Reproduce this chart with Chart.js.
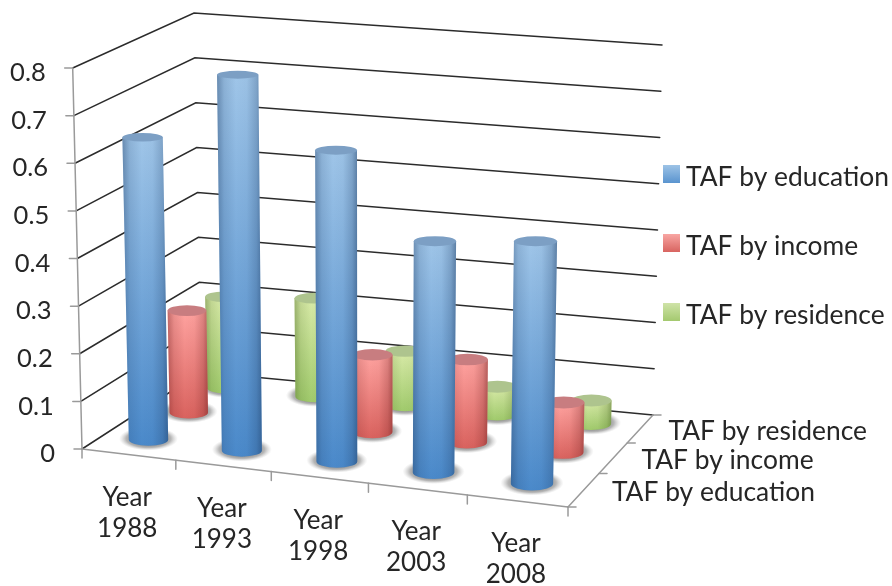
<!DOCTYPE html>
<html>
<head>
<meta charset="utf-8">
<style>html,body{margin:0;padding:0;background:#fff}canvas{display:block}</style>
<script src="https://cdn.jsdelivr.net/npm/chart.js@4/dist/chart.umd.min.js"></script>
</head>
<body>
<canvas id="c" width="892" height="586"></canvas>
<script>
const categories = ["Year 1988","Year 1993","Year 1998","Year 2003","Year 2008"];
const seriesNames = ["TAF by education","TAF by income","TAF by residence"];
const education = [0.64,0.79,0.65,0.48,0.50];
const income = [0.22,null,0.165,0.175,0.105];
const residence = [0.20,0.215,0.118,0.06,0.05];
const yTicks = [0,0.1,0.2,0.3,0.4,0.5,0.6,0.7,0.8];

const palette = [
  {light:"#9fc5e8",mid:"#4a89ca",cap:"#7c9fc4",edge:"rgba(30,60,100,",lg:"#9dc3e6",ld:"#5a94cf"},
  {light:"#ffa3a0",mid:"#d9625e",cap:"#c87d80",edge:"rgba(110,30,30,",lg:"#f8a6a3",ld:"#d86460"},
  {light:"#d8eaa8",mid:"#a0ca6c",cap:"#aec48e",edge:"rgba(70,100,30,",lg:"#cfe3a8",ld:"#a4c96f"}
];
const FONT = "Lato, 'Open Sans', sans-serif";
const TEXT = "#262626";

// axis box of the 3-D view: front-left, front-right, back-right, back-left
const floorQ = [[82,449],[568,507],[653,415],[201,372]];
const topQ = [[72.7,68],[575,113],[662,45],[194,13]];
const persp=(u,r)=>u/(u+(1-u)*r);
function quad(q,u,v){
  const a=[q[0][0]+(q[1][0]-q[0][0])*u,q[0][1]+(q[1][1]-q[0][1])*u];
  const b=[q[3][0]+(q[2][0]-q[3][0])*u,q[3][1]+(q[2][1]-q[3][1])*u];
  return [a[0]+(b[0]-a[0])*v,a[1]+(b[1]-a[1])*v];
}
function P(t,d,f){
  const u=persp(t,1.045),v=persp(d,0.87);
  const a=quad(floorQ,u,v),b=quad(topQ,u,v);
  return [a[0]+(b[0]-a[0])*f,a[1]+(b[1]-a[1])*f];
}
function line(ctx,a,b){ctx.beginPath();ctx.moveTo(a[0],a[1]);ctx.lineTo(b[0],b[1]);ctx.stroke();}

function drawFrame(chart){
  const ctx=chart.ctx,ys=chart.scales.y;
  const frac=v=>(ys.bottom-ys.getPixelForValue(v))/ys.height;
  ctx.save();
  ctx.lineCap="round";
  ctx.strokeStyle="#2b2b2b";ctx.lineWidth=1.5;
  ys.ticks.forEach(tk=>{
    const f=frac(tk.value);
    ctx.beginPath();
    const a=P(0,0,f),b=P(0,1,f),c=P(1,1,f);
    ctx.moveTo(a[0],a[1]);ctx.lineTo(b[0],b[1]);ctx.lineTo(c[0],c[1]);ctx.stroke();
  });
  ctx.strokeStyle="#9a9a9a";ctx.lineWidth=1.5;
  line(ctx,P(0,0,0),P(0,0,1));
  line(ctx,P(0,0,0),P(1,0,0));
  line(ctx,P(1,0,0),P(1,1,0));
  ys.ticks.forEach(tk=>{const a=P(0,0,frac(tk.value));line(ctx,a,[a[0]-8,a[1]]);});
  const xs=chart.scales.x;
  for(let i=0;i<=xs.ticks.length;i++){const a=P(i/xs.ticks.length,0,0);line(ctx,a,[a[0],a[1]+9]);}
  for(let i=0;i<=seriesNames.length;i++){const a=P(1,i/seriesNames.length,0);line(ctx,a,[a[0]+8,a[1]]);}
  ctx.restore();
}

function drawCylinder(ctx,t,d,f,pal){
  const B=P(t,d,0),T=P(t,d,f);
  const dt=0.0425;
  const rb=(P(t+dt,d,0)[0]-P(t-dt,d,0)[0])/2;
  const rt=(P(t+dt,d,f)[0]-P(t-dt,d,f)[0])/2;
  const ryb=rb*0.31, ryt=rt*(0.31-0.12*f);
  // floor shadow
  ctx.save();
  ctx.translate(B[0],B[1]-1);ctx.scale(1,0.4);
  const sr=rb*1.5;
  const sg=ctx.createRadialGradient(0,0,rb*0.7,0,0,sr);
  sg.addColorStop(0,"rgba(80,80,80,0.75)");sg.addColorStop(0.55,"rgba(110,110,110,0.5)");sg.addColorStop(1,"rgba(170,170,170,0)");
  ctx.fillStyle=sg;ctx.beginPath();ctx.arc(0,0,sr,0,Math.PI*2);ctx.fill();
  ctx.restore();
  // body
  const body=()=>{ctx.beginPath();
    ctx.moveTo(T[0]-rt,T[1]);
    ctx.lineTo(B[0]-rb,B[1]);
    ctx.ellipse(B[0],B[1],rb,ryb,0,Math.PI,0,true);
    ctx.lineTo(T[0]+rt,T[1]);
    ctx.closePath();};
  const vg=ctx.createLinearGradient(0,T[1],0,B[1]+ryb);
  vg.addColorStop(0,pal.light);vg.addColorStop(1,pal.mid);
  ctx.fillStyle=vg;body();ctx.fill();
  const L=Math.min(T[0]-rt,B[0]-rb),R=Math.max(T[0]+rt,B[0]+rb);
  const hg=ctx.createLinearGradient(L,0,R,0);
  hg.addColorStop(0,pal.edge+"0.42)");hg.addColorStop(0.16,pal.edge+"0.14)");hg.addColorStop(0.42,pal.edge+"0)");
  hg.addColorStop(0.66,pal.edge+"0.03)");hg.addColorStop(0.88,pal.edge+"0.24)");hg.addColorStop(1,pal.edge+"0.5)");
  ctx.fillStyle=hg;body();ctx.fill();
  // cap
  ctx.fillStyle=pal.cap;ctx.beginPath();ctx.ellipse(T[0],T[1],rt,ryt,0,0,Math.PI*2);ctx.fill();
}

function drawText(ctx,s,x,y,align,size){
  ctx.font=size+"px "+FONT;ctx.fillStyle=TEXT;ctx.textAlign=align;ctx.textBaseline="middle";ctx.fillText(s,x,y);
}

const view3d={
  id:"view3d",
  beforeDatasetsDraw(chart){
    const ctx=chart.ctx,xs=chart.scales.x,ys=chart.scales.y;
    drawFrame(chart);
    for(let s=chart.data.datasets.length-1;s>=0;s--){
      const meta=chart.getDatasetMeta(s);
      meta.data.forEach((el,i)=>{
        if(el.skip||chart.data.datasets[s].data[i]==null)return;
        const t=(xs.getPixelForValue(i)-xs.left)/xs.width-0.004;
        const d=(s+0.5)/chart.data.datasets.length;
        const f=(ys.bottom-el.y)/ys.height;
        drawCylinder(ctx,t,d,f,palette[s]);
      });
    }
    ys.ticks.forEach(tk=>{
      const a=P(0,0,(ys.bottom-ys.getPixelForValue(tk.value))/ys.height);
      drawText(ctx,tk.label,a[0]-27,a[1]+5,"right",25.5);
    });
    categories.forEach((c,i)=>{
      const t=(xs.getPixelForValue(i)-xs.left)/xs.width;
      const a=P(t,0,0);
      const parts=c.split(" ");
      drawText(ctx,parts[0],a[0]-1.5,a[1]+43,"center",26);
      drawText(ctx,parts[1],a[0]-1.5,a[1]+74,"center",26);
    });
    seriesNames.forEach((n,s)=>{
      const a=P(1,(s+0.5)/seriesNames.length,0);
      drawText(ctx,n,a[0]+28,a[1]+3,"left",26.4);
    });
    seriesNames.forEach((n,s)=>{
      const y=165+69*s;
      const g=ctx.createLinearGradient(0,y,0,y+18);
      g.addColorStop(0,palette[s].lg);g.addColorStop(1,palette[s].ld);
      ctx.fillStyle=g;ctx.fillRect(663,y,17,18);
      drawText(ctx,n,686,y+12,"left",26.4);
    });
    return false;
  }
};

new Chart(document.getElementById("c"),{
  type:"bar",
  data:{labels:categories,datasets:[
    {label:seriesNames[0],data:education,backgroundColor:palette[0].mid},
    {label:seriesNames[1],data:income,backgroundColor:palette[1].mid},
    {label:seriesNames[2],data:residence,backgroundColor:palette[2].mid}
  ]},
  options:{
    responsive:false,animation:false,devicePixelRatio:1,
    layout:{padding:{left:82,right:240,top:68,bottom:137}},
    plugins:{legend:{display:false},title:{display:false},tooltip:{enabled:false}},
    scales:{
      x:{display:false,type:"category"},
      y:{display:false,min:0,max:0.8,afterBuildTicks(ax){ax.ticks=yTicks.map(v=>({value:v,label:v===0?"0":String(v)}));}}
    }
  },
  plugins:[view3d]
});
</script>
</body>
</html>
